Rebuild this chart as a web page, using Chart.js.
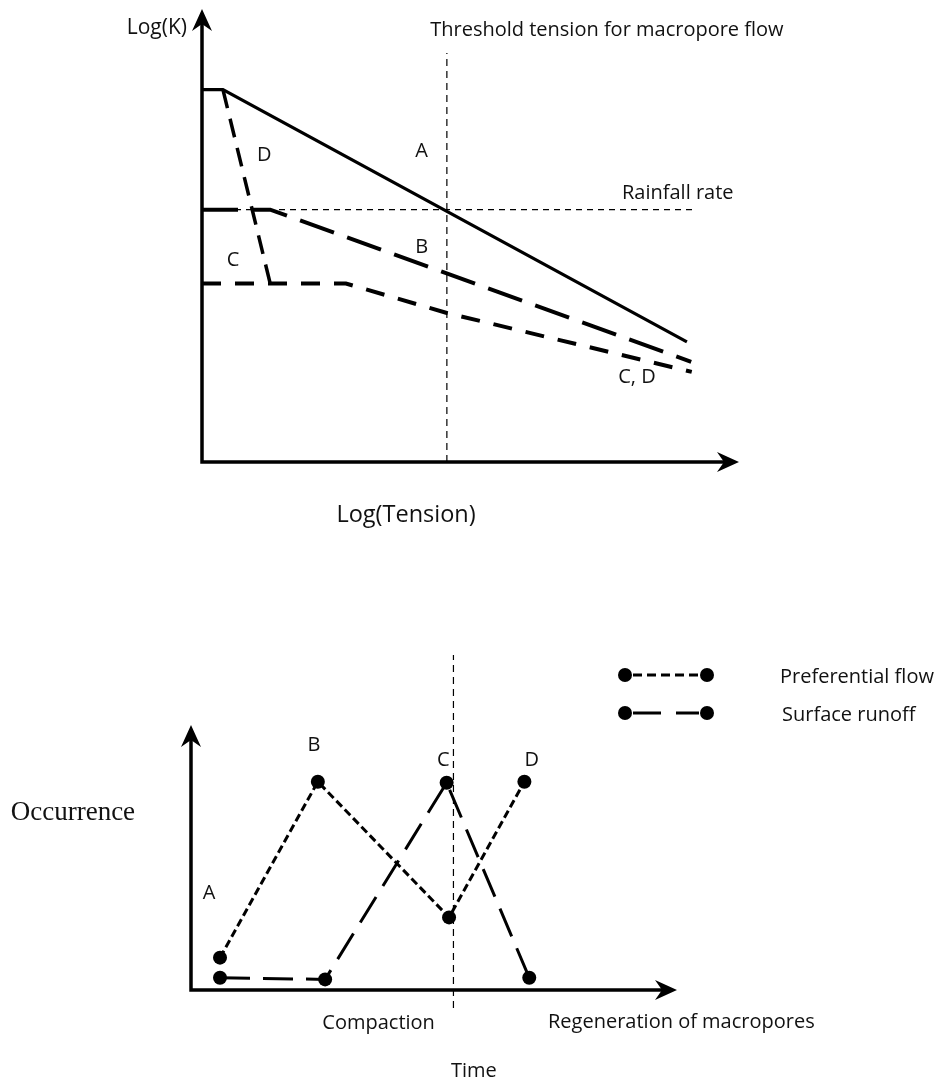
<!DOCTYPE html>
<html><head><meta charset="utf-8">
<script src="https://cdn.jsdelivr.net/npm/chart.js@4.4.1/dist/chart.umd.min.js"></script>
<style>
html,body{margin:0;padding:0;background:#fff;}
#wrap{position:relative;width:943px;height:1082px;overflow:hidden;}
#top{position:absolute;left:0;top:0;}
#bot{position:absolute;left:0;top:560px;}
</style></head><body>
<div id="wrap">
<canvas id="top" width="943" height="560" style="width:943px;height:560px"></canvas>
<canvas id="bot" width="943" height="522" style="width:943px;height:522px"></canvas>
</div>
<script>
// ---------- Top chart: Log(K) vs Log(Tension) (relative units 0-100) ----------
const curveA_x = [0, 3.9, 90.3];
const curveA_y = [82.2, 82.2, 26.5];
const curveB_x = [0, 12.7, 91.1];
const curveB_y = [55.7, 55.7, 22.1];
const curveC_x = [0, 26.8, 45.6, 91.2];
const curveC_y = [39.4, 39.4, 32.9, 19.9];
const curveD_x = [3.9, 12.7];
const curveD_y = [82.2, 39.4];
const rainfallRate = 55.7;
const rainfallEnd = 91.4;
const thresholdTension = 45.6;
const thresholdTop = 90.3;

const topLabelText = ['Log(K)', 'Threshold tension for macropore flow', 'Rainfall rate', 'A', 'B', 'C', 'D', 'C, D', 'Log(Tension)'];
const topLabelX = [-2.8, 75.4, 88.6, 40.9, 40.9, 5.8, 11.6, 81.0, 38.0];
const topLabelY = [95.8, 95.4, 59.3, 68.5, 47.5, 44.6, 67.8, 18.8, -11.7];

// ---------- Bottom chart: Occurrence vs Time ----------
const stages = ['A', 'B', 'C', 'D'];
const prefTime = [5.97, 26.1, 53.1, 68.6];
const prefOcc = [12.2, 78.6, 27.4, 78.6];
const runoffTime = [5.97, 27.6, 52.6, 69.6];
const runoffOcc = [4.6, 4.0, 78.2, 4.6];
const stageLabelX = [3.7, 25.3, 51.9, 70.1];
const stageLabelY = [36.6, 92.5, 86.8, 86.8];
const compactionTime = 54.0;
const compactionLineY = [-6.8, 126.4];

const botLabelText = ['Occurrence', 'Compaction', 'Regeneration of macropores', 'Time'];
const botLabelX = [-24.3, 38.6, 100.9, 58.2];
const botLabelY = [66.8, -12.5, -12.1, -30.6];

const seriesNames = ['Preferential flow', 'Surface runoff'];

// ---------- helpers ----------
const pts = (xs, ys) => xs.map((v, i) => ({x: v, y: ys[i]}));
const SANS = '"Open Sans", "DejaVu Sans", sans-serif';
const SERIF = '"Liberation Serif", "DejaVu Serif", serif';
const INK = '#111';

const labelStyle = {
  'Log(K)': {align: 'right', size: 21},
  'Log(Tension)': {align: 'center', size: 23.5},
  'Occurrence': {align: 'center', size: 27, family: SERIF}
};

const axesArrows = {
  id: 'axesArrows',
  beforeDatasetsDraw(chart) {
    const {ctx, scales: {x, y}} = chart;
    const x0 = x.getPixelForValue(0), y0 = y.getPixelForValue(0);
    const xt = x.getPixelForValue(x.max), yt = y.getPixelForValue(y.max);
    const head = 22, half = 10, notch = 15;
    ctx.save();
    ctx.strokeStyle = '#000'; ctx.fillStyle = '#000';
    ctx.lineWidth = 3.5; ctx.lineJoin = 'miter'; ctx.lineCap = 'butt';
    ctx.beginPath();
    ctx.moveTo(x0, yt + notch);
    ctx.lineTo(x0, y0);
    ctx.lineTo(xt - notch, y0);
    ctx.stroke();
    // up arrow
    ctx.beginPath();
    ctx.moveTo(x0, yt);
    ctx.lineTo(x0 - half, yt + head);
    ctx.lineTo(x0, yt + notch);
    ctx.lineTo(x0 + half, yt + head);
    ctx.closePath(); ctx.fill();
    // right arrow
    ctx.beginPath();
    ctx.moveTo(xt, y0);
    ctx.lineTo(xt - head, y0 - half);
    ctx.lineTo(xt - notch, y0);
    ctx.lineTo(xt - head, y0 + half);
    ctx.closePath(); ctx.fill();
    ctx.restore();
  }
};

const textLabels = {
  id: 'textLabels',
  afterDatasetsDraw(chart, args, opts) {
    const {ctx, scales: {x, y}} = chart;
    ctx.save();
    ctx.fillStyle = INK;
    ctx.textBaseline = 'middle';
    opts.text.forEach((t, i) => {
      const st = labelStyle[t] || {};
      ctx.font = (st.size || 20) + 'px ' + (st.family || SANS);
      ctx.textAlign = st.align || 'center';
      ctx.fillText(t, x.getPixelForValue(opts.xs[i]), y.getPixelForValue(opts.ys[i]));
    });
    ctx.restore();
  }
};

const legendPlugin = {
  id: 'customLegend',
  afterDatasetsDraw(chart, args, opts) {
    const {ctx} = chart;
    ctx.save();
    opts.items.forEach((it, i) => {
      const yy = opts.top + i * opts.gap;
      ctx.strokeStyle = '#000'; ctx.lineWidth = 3; ctx.setLineDash(it.dash);
      ctx.beginPath(); ctx.moveTo(opts.left + 8, yy); ctx.lineTo(opts.left + opts.len - 8, yy); ctx.stroke();
      ctx.setLineDash([]);
      ctx.fillStyle = '#000';
      [opts.left, opts.left + opts.len].forEach(cx => { ctx.beginPath(); ctx.arc(cx, yy, 7, 0, Math.PI * 2); ctx.fill(); });
      ctx.fillStyle = INK; ctx.font = '20px ' + SANS; ctx.textAlign = 'left'; ctx.textBaseline = 'middle';
      ctx.fillText(it.text, opts.textLeft + i * 2, yy + 2);
    });
    ctx.restore();
  }
};

const lineDs = (data, width, dash, extra) => Object.assign({
  data, showLine: true, borderColor: '#000', backgroundColor: '#000', borderWidth: width,
  borderDash: dash, pointRadius: 0, tension: 0, clip: false, borderCapStyle: 'butt', borderJoinStyle: 'miter'
}, extra || {});

const baseOptions = (pad, xmax, ymax) => ({
  responsive: false, animation: false, events: [],
  layout: {padding: pad},
  scales: {
    x: {type: 'linear', min: 0, max: xmax, display: false},
    y: {type: 'linear', min: 0, max: ymax, display: false}
  }
});

// ---------- Top chart ----------
const topOpts = baseOptions({left: 202, right: 204, top: 9, bottom: 98}, 100, 100);
topOpts.plugins = {legend: {display: false}, tooltip: {enabled: false},
  textLabels: {text: topLabelText, xs: topLabelX, ys: topLabelY}};
new Chart(document.getElementById('top'), {
  type: 'scatter',
  data: {datasets: [
    lineDs(pts([0, rainfallEnd], [rainfallRate, rainfallRate]), 1.2, [6, 5]),
    lineDs(pts([thresholdTension, thresholdTension], [0, thresholdTop]), 1.2, [7, 5]),
    lineDs(pts(curveA_x, curveA_y), 3.2, []),
    lineDs(pts(curveB_x, curveB_y), 4, [36, 14]),
    lineDs(pts(curveC_x, curveC_y), 4, [19, 14]),
    lineDs(pts(curveD_x, curveD_y), 3.5, [19, 11])
  ]},
  options: topOpts,
  plugins: [axesArrows, textLabels]
});

// ---------- Bottom chart ----------
const botOpts = baseOptions({left: 191, right: 266, top: 165, bottom: 92}, 100, 100);
botOpts.plugins = {legend: {display: false}, tooltip: {enabled: false},
  textLabels: {text: stages.concat(botLabelText), xs: stageLabelX.concat(botLabelX), ys: stageLabelY.concat(botLabelY)},
  customLegend: {left: 625, len: 82, top: 115, gap: 38, textLeft: 780,
    items: [{text: seriesNames[0], dash: [9, 5]}, {text: seriesNames[1], dash: [28, 15]}]}};
new Chart(document.getElementById('bot'), {
  type: 'scatter',
  data: {datasets: [
    lineDs(pts([compactionTime, compactionTime], compactionLineY), 1.2, [7, 5]),
    lineDs(pts(prefTime, prefOcc), 3, [8, 4], {label: seriesNames[0], pointRadius: 7, pointBorderWidth: 0, pointBackgroundColor: '#000'}),
    lineDs(pts(runoffTime, runoffOcc), 3, [30, 13], {label: seriesNames[1], pointRadius: 7, pointBorderWidth: 0, pointBackgroundColor: '#000'})
  ]},
  options: botOpts,
  plugins: [axesArrows, textLabels, legendPlugin]
});
</script>
</body></html>
